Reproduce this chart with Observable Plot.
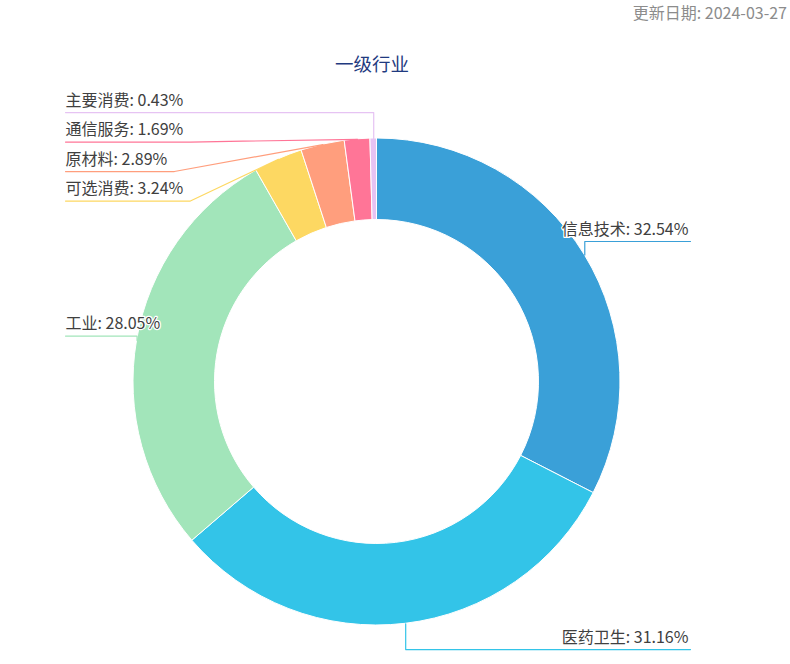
<!DOCTYPE html>
<html>
<head>
<meta charset="utf-8">
<script src="https://cdn.jsdelivr.net/npm/d3@7"></script>
<script src="https://cdn.jsdelivr.net/npm/@observablehq/plot@0.6"></script>
<style>
  html, body { margin: 0; padding: 0; background: #fff; }
  #wrap { width: 790px; font-family: "Noto Sans CJK SC", "Noto Sans", sans-serif; }
  #date { height: 24px; line-height: 24px; text-align: right; padding-right: 3px; font-size: 16px; color: #8c8c8c; box-sizing: border-box; }
  #title { width: 744px; height: 60px; box-sizing: border-box; padding-top: 29px; line-height: 20px; text-align: center; font-size: 18.5px; color: #1f3a80; }
  #chart svg { display: block; overflow: visible; }
</style>
</head>
<body>
<div id="wrap">
  <div id="date"></div>
  <div id="title"></div>
  <div id="chart"></div>
</div>
<script>
// ---- data ----
const categories = ["信息技术", "医药卫生", "工业", "可选消费", "原材料", "通信服务", "主要消费"];
const shares = [32.54, 31.16, 28.05, 3.24, 2.89, 1.69, 0.43];
const sliceColors = ["#3aa0d8", "#33c4e8", "#a2e5ba", "#fdd862", "#ff9e7d", "#ff7597", "#e6c3f3"];
const chartTitle = "一级行业";
const updateLabel = "更新日期";
const updateDate = "2024-03-27";

document.getElementById("date").textContent = `${updateLabel}: ${updateDate}`;
document.getElementById("title").textContent = chartTitle;

// ---- layout constants ----
const W = 790, H = 580;
const PX = 243.5;            // pixels per radius unit
const CXP = 376.5, CYP = 297.5; // pie centre in svg pixels
const toUx = px => (px - CXP) / PX;
const INNER = 162 / PX;
const LEN1 = 26 / PX, GAP = 29.5 / PX, PAD = 7 / PX;
const LEFT_EDGE = toUx(65), RIGHT_EDGE = toUx(690);
const FONT = "16px 'Noto Sans CJK SC'";

const rows = categories.map((c, i) => ({category: c, share: shares[i], color: sliceColors[i]}));
const arcs = d3.pie().sort(null).value(d => d.share)(rows);

const ctx = document.createElement("canvas").getContext("2d");
ctx.font = FONT;

const items = arcs.map(p => {
  const a = (p.startAngle + p.endAngle) / 2;
  const tx = Math.sin(a), ty = Math.cos(a);
  const label = `${p.data.category}: ${p.data.share.toFixed(2)}%`;
  return {
    ...p.data, label, tx, ty,
    side: tx < 0 ? "left" : "right",
    natural: (1 + LEN1) * ty,
    textW: ctx.measureText(label).width / PX
  };
});

for (const side of ["left", "right"]) {
  const list = items.filter(d => d.side === side).sort((a, b) => b.natural - a.natural);
  list.forEach((d, i) => {
    d.ly = i === 0 ? d.natural : Math.min(d.natural, list[i - 1].ly - GAP);
  });
}

const linePts = [];
for (const d of items) {
  const edge = d.side === "left" ? LEFT_EDGE : RIGHT_EDGE;
  const dir = d.side === "left" ? 1 : -1;
  const pulledIn = Math.abs(d.ly) < Math.abs(d.ty);
  const elbowX = pulledIn ? edge + dir * (d.textW + PAD) : d.tx;
  d.edge = edge;
  linePts.push({category: d.category, color: d.color, x: edge, y: d.ly});
  linePts.push({category: d.category, color: d.color, x: elbowX, y: d.ly});
  linePts.push({category: d.category, color: d.color, x: d.tx, y: d.ty});
}

const arcMark = (index, scales) => {
  const ox = scales.x(0), oy = scales.y(0);
  const r = scales.x(1) - ox;
  const arc = d3.arc().innerRadius(r * INNER).outerRadius(r);
  const g = d3.create("svg:g").attr("transform", `translate(${ox},${oy})`);
  g.selectAll("path").data(arcs).join("path")
    .attr("d", arc)
    .attr("fill", d => d.data.color)
    .attr("stroke", "#fff")
    .attr("stroke-width", 1)
    .attr("stroke-linejoin", "round");
  return g.node();
};

const chart = Plot.plot({
  width: W, height: H,
  margin: 0,
  style: {fontFamily: "'Noto Sans CJK SC', sans-serif", background: "white", overflow: "visible"},
  x: {domain: [-CXP / PX, (W - CXP) / PX], axis: null},
  y: {domain: [-(H - CYP) / PX, CYP / PX], axis: null},
  color: {type: "identity"},
  marks: [
    arcMark,
    Plot.line(linePts, {x: "x", y: "y", z: "category", stroke: "color", strokeWidth: 1.2}),
    Plot.text(items.filter(d => d.side === "left"), {
      x: "edge", y: "ly", text: "label", textAnchor: "start", dy: -12,
      fontSize: 16, fill: "#404040", stroke: "white", strokeWidth: 2.5
    }),
    Plot.text(items.filter(d => d.side === "right"), {
      x: "edge", y: "ly", text: "label", textAnchor: "end", dx: -2, dy: -12,
      fontSize: 16, fill: "#404040", stroke: "white", strokeWidth: 2.5
    })
  ]
});
document.getElementById("chart").appendChild(chart);
</script>
</body>
</html>
